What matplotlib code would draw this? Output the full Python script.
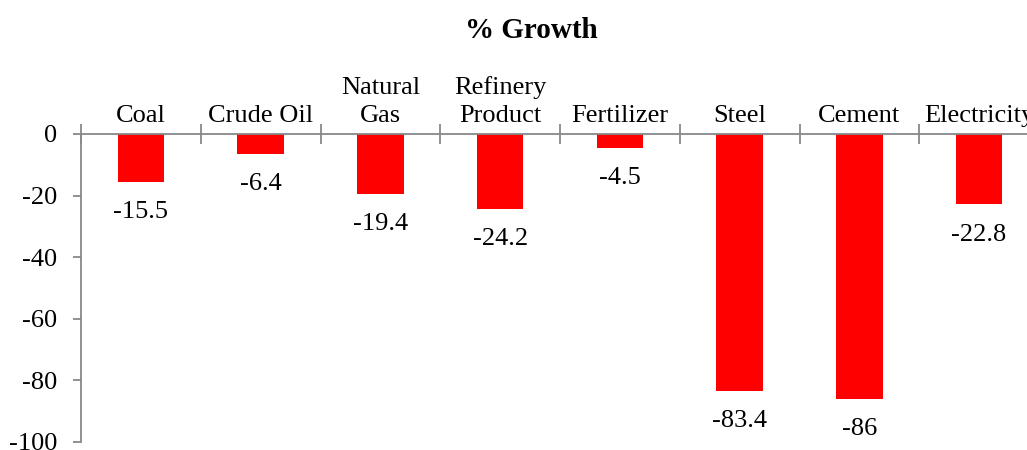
import matplotlib.pyplot as plt
import numpy as np

categories = ['Coal', 'Crude Oil', 'Natural\nGas', 'Refinery\nProduct',
              'Fertilizer', 'Steel', 'Cement', 'Electricity']
growth = [-15.5, -6.4, -19.4, -24.2, -4.5, -83.4, -86, -22.8]
value_labels = ['-15.5', '-6.4', '-19.4', '-24.2', '-4.5', '-83.4', '-86', '-22.8']

plt.rcParams['font.family'] = ['Liberation Serif', 'DejaVu Serif']
plt.rcParams['axes.unicode_minus'] = False
axis_color = '#888888'

fig = plt.figure(figsize=(10.27, 4.5), dpi=100)
ax = fig.add_axes([81 / 1027, 8 / 450, 958 / 1027, 308 / 450])

x = np.arange(len(categories))
ax.bar(x, growth, width=0.39, color='#FF0000')

for xi, v, lab in zip(x, growth, value_labels):
    ax.annotate(lab, (xi, v), xytext=(0, -22), textcoords='offset points',
                ha='center', va='center', fontsize=19)

ax.set_xlim(-0.5, len(categories) - 0.5)
ax.set_ylim(-100, 0)
ax.set_yticks(np.arange(-100, 1, 20))

# category labels above the zero line, tick marks at category boundaries
ax.xaxis.set_ticks_position('top')
ax.set_xticks(np.arange(-0.5, len(categories), 1))
ax.set_xticklabels([])
ax.set_xticks(x, minor=True)
ax.set_xticklabels(categories, minor=True, fontsize=19, linespacing=1.35)
ax.tick_params(axis='x', which='major', direction='inout', length=14,
               width=1.3, color=axis_color)
ax.tick_params(axis='x', which='minor', length=0, pad=5)
ax.tick_params(axis='y', direction='out', length=6, width=1.3,
               color=axis_color, labelsize=19, pad=11)

for side in ['right', 'bottom']:
    ax.spines[side].set_visible(False)
for side in ['top', 'left']:
    ax.spines[side].set_color(axis_color)
    ax.spines[side].set_linewidth(1.3)

fig.text(531 / 1027, 1 - 30 / 450, '% Growth', ha='center', va='center',
         fontsize=21, fontweight='bold')

plt.savefig('out.png', dpi=100)
plt.close()
